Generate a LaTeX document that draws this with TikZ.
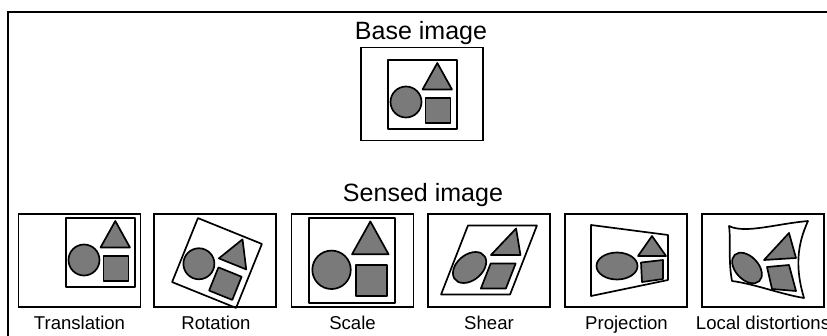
\documentclass[tikz,border=0pt]{standalone}
\usepackage{fontspec}
\setmainfont{Liberation Sans}
\usetikzlibrary{positioning}

\definecolor{shapefill}{RGB}{122,122,122}

% frame + disc + triangle + square, centred on the origin
\newcommand{\figshapes}{%
  \draw[innerbox] (-34.5,-34.5) rectangle (34.5,34.5);
  \draw[piece] (-16.5,7.5) circle (15.5);
  \draw[piece] (0,-5) -- (14.8,-31.5) -- (29.5,-5) -- cycle;
  \draw[piece] (3,3.5) rectangle (28,28.5);
}

\begin{document}
\begin{tikzpicture}[x=0.025cm, y=-0.025cm,
    imgbox/.style={rectangle, draw, line width=1pt, minimum width=3.05cm, minimum height=2.33cm, inner sep=0pt},
    innerbox/.style={draw, line width=1.2pt, line join=round},
    piece/.style={draw, fill=shapefill, line width=1.2pt, line join=round},
    heading/.style={font=\fontsize{17.8}{20}\selectfont, anchor=base},
    caption/.style={font=\fontsize{13.2}{15}\selectfont, anchor=base},
    rule/.style={line width=1.5pt}
]
\useasboundingbox (0,0) rectangle (827,335);

% page rules
\coordinate (corner) at (8,12);
\draw[rule] (8,340) -- (corner) -- (832,12);

% Base image
\node[heading] (basetitle) at (421,39) {Base image};
\node[imgbox] (base) at (422,94) {};
\begin{scope}[shift={(422.5,94.5)}]
  \figshapes
\end{scope}

% Sensed images
\node[heading] (sensedtitle) at (423,201.5) {Sensed image};

\node[imgbox] (trans) at (79.5,260.5) {};
\node[imgbox] (rot) at (215,260.5) {};
\node[imgbox] (scl) at (352.5,260.5) {};
\node[imgbox] (shr) at (489,260.5) {};
\node[imgbox] (proj) at (626,260.5) {};
\node[imgbox] (local) at (763,260.5) {};

% translation
\begin{scope}[shift={(100.5,252.5)}]
  \figshapes
\end{scope}

% rotation
\begin{scope}[shift={(217,263)}, rotate=-22]
  \figshapes
\end{scope}

% scale
\begin{scope}[shift={(352,260.5)}, scale=1.24]
  \figshapes
\end{scope}

% shear
\begin{scope}[shift={(489,260)}, xslant=0.39]
  \figshapes
\end{scope}

% projection
\draw[innerbox] (591,225) -- (668,235) -- (668,280) -- (591,296) -- cycle;
\draw[piece] (617,266) ellipse (20.5 and 13.5);
\draw[piece] (638,256) -- (652,236) -- (666,256) -- cycle;
\draw[piece] (641,262.5) -- (663,260) -- (663,279) -- (642,282) -- cycle;

% local distortions
\draw[innerbox] (729,226) .. controls (745,234) and (775,224) .. (808,221)
  .. controls (797,245) and (795,268) .. (804,298)
  .. controls (780,294) and (755,284) .. (732,281)
  .. controls (728,260) and (731,240) .. cycle;
\draw[piece, rotate around={-47:(747,268)}] (747,268) ellipse (18 and 11.5);
\draw[piece] (764,260) -- (789,233) -- (796,258) -- cycle;
\draw[piece] (767,267) -- (789,265) -- (796,291) -- (772,289) -- cycle;

% Labels
\node[caption] (transcap) at (79.5,329) {Translation};
\node[caption] (rotcap) at (216,329) {Rotation};
\node[caption] (sclcap) at (352.5,329) {Scale};
\node[caption] (shrcap) at (489,329) {Shear};
\node[caption] (projcap) at (626.5,329) {Projection};
\node[caption] (localcap) at (763,329) {Local distortions};

\end{tikzpicture}
\end{document}
